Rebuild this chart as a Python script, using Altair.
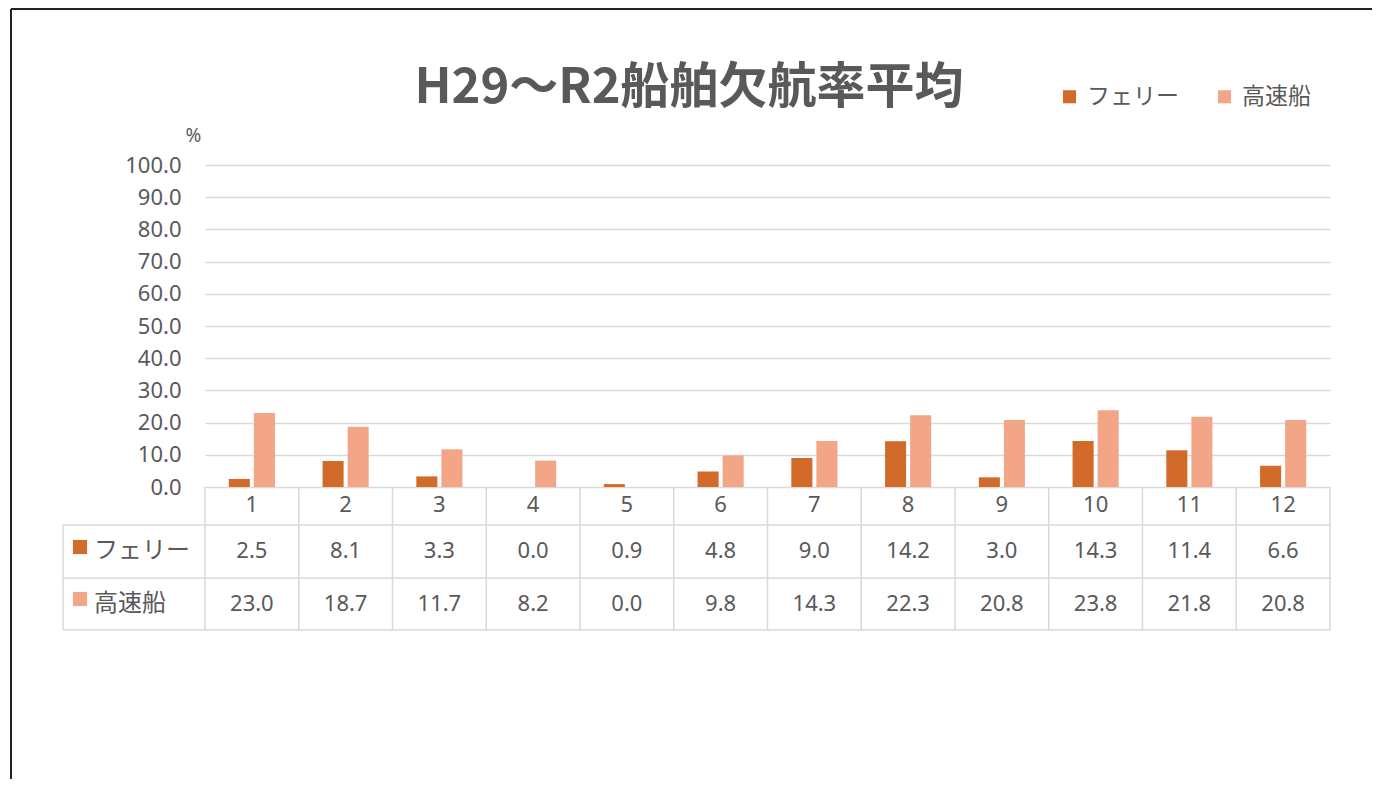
import altair as alt
import pandas as pd

# ---- data ----
months = ["1", "2", "3", "4", "5", "6", "7", "8", "9", "10", "11", "12"]
series_names = ["フェリー", "高速船"]
ferry = [2.5, 8.1, 3.3, 0.0, 0.9, 4.8, 9.0, 14.2, 3.0, 14.3, 11.4, 6.6]
highspeed = [23.0, 18.7, 11.7, 8.2, 0.0, 9.8, 14.3, 22.3, 20.8, 23.8, 21.8, 20.8]
y_ticks = [0, 10, 20, 30, 40, 50, 60, 70, 80, 90, 100]
title_text = "H29～R2船舶欠航率平均"
colors = ["#D26A29", "#F2A687"]

rows = []
for m, f, h in zip(months, ferry, highspeed):
    rows.append({"month": m, "series": series_names[0], "value": f})
    rows.append({"month": m, "series": series_names[1], "value": h})
df = pd.DataFrame(rows)

W, H = 1125, 322
GREY = "#595959"
LINE = "#d9d9d9"
NUM_FONT = "Noto Sans, Noto Sans CJK JP"
JP_FONT = "Noto Sans CJK JP"
NUM_SIZE = 22
JP_SIZE = 24

x_enc = alt.X("month:N", sort=months,
              scale=alt.Scale(paddingInner=0, paddingOuter=0),
              axis=alt.Axis(title=None, labelAngle=0, ticks=False, domain=True,
                            domainColor=LINE, labelFontSize=NUM_SIZE, labelFont=NUM_FONT,
                            labelColor=GREY, labelPadding=7, labelBaseline="top"))

base = alt.Chart(df)

bars = base.mark_bar().encode(
    x=x_enc,
    xOffset=alt.XOffset("series:N", sort=series_names,
                        scale=alt.Scale(paddingInner=0.16, paddingOuter=0.95)),
    y=alt.Y("value:Q", scale=alt.Scale(domain=[0, 100]),
            axis=alt.Axis(values=y_ticks, format=".1f", title="%", titleAngle=0,
                          titleX=-12, titleY=-30, titleAlign="center",
                          titleBaseline="middle", titleFontSize=19,
                          titleFontWeight="normal", titleColor=GREY, titleFont=NUM_FONT,
                          domain=False, ticks=False, labelPadding=24,
                          labelFontSize=NUM_SIZE, labelFont=NUM_FONT, labelColor=GREY,
                          gridColor=LINE, gridWidth=1.3)),
    color=alt.Color("series:N", sort=series_names,
                    scale=alt.Scale(domain=series_names, range=colors),
                    legend=alt.Legend(title=None, orient="none", legendX=853, legendY=-80,
                                      direction="horizontal", symbolType="square",
                                      symbolSize=170, symbolStrokeWidth=0,
                                      labelFontSize=23, labelFont=JP_FONT,
                                      labelColor=GREY, columnPadding=34, labelOffset=6)),
)

# table values
ferry_txt = base.transform_filter(alt.datum.series == series_names[0]).mark_text(
    fontSize=NUM_SIZE, font=NUM_FONT, color=GREY, baseline="middle").encode(
    x=alt.X("month:N", sort=months), y=alt.value(386),
    text=alt.Text("value:Q", format=".1f"))
hs_txt = base.transform_filter(alt.datum.series == series_names[1]).mark_text(
    fontSize=NUM_SIZE, font=NUM_FONT, color=GREY, baseline="middle").encode(
    x=alt.X("month:N", sort=months), y=alt.value(439),
    text=alt.Text("value:Q", format=".1f"))

# row labels
lab_df = pd.DataFrame({"series": series_names})
ferry_lab = alt.Chart(lab_df).transform_filter(alt.datum.series == series_names[0]).mark_text(
    fontSize=JP_SIZE, font=JP_FONT, color=GREY, align="left", baseline="middle").encode(
    x=alt.value(-111), y=alt.value(386), text="series:N")
hs_lab = alt.Chart(lab_df).transform_filter(alt.datum.series == series_names[1]).mark_text(
    fontSize=JP_SIZE, font=JP_FONT, color=GREY, align="left", baseline="middle").encode(
    x=alt.value(-111), y=alt.value(439), text="series:N")
ferry_sq = alt.Chart(lab_df).transform_filter(alt.datum.series == series_names[0]).mark_square(
    size=200, color=colors[0], opacity=1).encode(x=alt.value(-125), y=alt.value(382))
hs_sq = alt.Chart(lab_df).transform_filter(alt.datum.series == series_names[1]).mark_square(
    size=200, color=colors[1], opacity=1).encode(x=alt.value(-125), y=alt.value(434))

# table grid lines
hlines = alt.Chart(pd.DataFrame({"k": [360, 413, 465]})).mark_rule(
    color=LINE, strokeWidth=1.5).encode(
    x=alt.value(-142), x2=alt.value(W), y=alt.Y("k:Q", scale=None))
vlines = base.transform_filter(alt.datum.series == series_names[0]).mark_rule(
    color=LINE, strokeWidth=1.5).encode(
    x=alt.X("month:N", sort=months, bandPosition=0), y=alt.value(H), y2=alt.value(465))
vright = alt.Chart(lab_df.head(1)).mark_rule(color=LINE, strokeWidth=1.5).encode(
    x=alt.value(W), y=alt.value(H), y2=alt.value(465))
vleft = alt.Chart(lab_df.head(1)).mark_rule(color=LINE, strokeWidth=1.5).encode(
    x=alt.value(-142), y=alt.value(360), y2=alt.value(465))

# title
title = alt.Chart(pd.DataFrame({"t": [title_text]})).mark_text(
    fontSize=49, font=JP_FONT, fontWeight="bold", color=GREY,
    align="center", baseline="middle").encode(
    x=alt.value(484), y=alt.value(-77), text="t:N")

# outer frame (screenshot border)
ftop = alt.Chart(lab_df.head(1)).mark_rule(color="#222222", strokeWidth=2).encode(
    x=alt.value(-194), x2=alt.value(1170), y=alt.value(-156))
fleft = alt.Chart(lab_df.head(1)).mark_rule(color="#222222", strokeWidth=2).encode(
    x=alt.value(-194), y=alt.value(-156), y2=alt.value(620))

chart = alt.layer(
    bars, hlines, vlines, vright, vleft, ferry_txt, hs_txt,
    ferry_sq, hs_sq, ferry_lab, hs_lab, title, ftop, fleft
).resolve_scale(y="shared").properties(
    width=W, height=H,
    autosize=alt.AutoSizeParams(type="none"),
    padding={"left": 197, "top": 157, "right": 42, "bottom": 292},
    background="white",
).configure_view(stroke=None)

chart.save("out.html", embed_options={"renderer": "svg", "actions": False})
